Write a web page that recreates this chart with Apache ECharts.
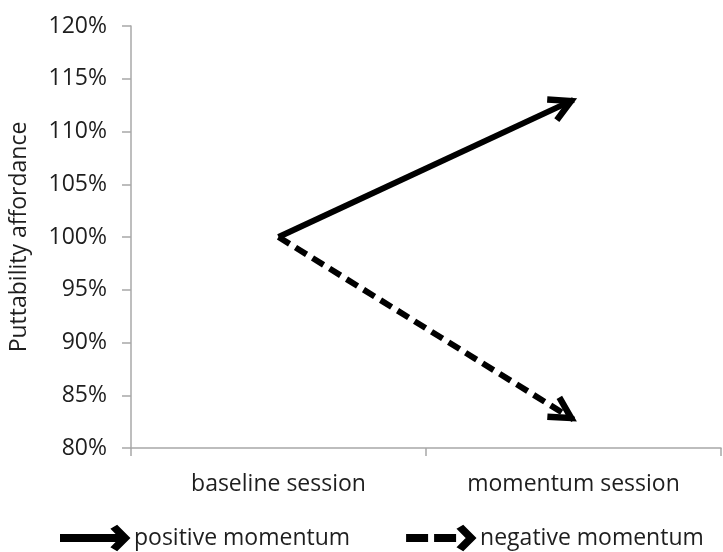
<!DOCTYPE html>
<html>
<head>
<meta charset="utf-8">
<script src="https://cdn.jsdelivr.net/npm/echarts@6/dist/echarts.min.js"></script>
<style>html,body{margin:0;padding:0;background:#fff;}#c{width:723px;height:552px;}</style>
</head>
<body>
<div id="c"></div>
<script>
const categories = ['baseline session', 'momentum session'];
const seriesNames = ['positive momentum', 'negative momentum'];
const positiveValues = [100, 113];
const negativeValues = [100, 82.7];
const yTicks = { min: 80, max: 120, interval: 5 };

const FONT = 'Open Sans';
const TXT = '#1e1e1e';
const chevron = 'path://M-26,-22 M26,30 M0,0 L14.2,26.2 L8.6,29.2 L0,13.4 L-8.6,29.2 L-14.2,26.2 Z';
const legendSolid = 'path://M0,10 L61,10 L61,16 L0,16 Z M68,13 L56,25 L51,22 L60,13 L51,4 L56,1 Z';
const legendDashed = 'path://M0,10 L20,10 L20,16 L0,16 Z M28,10 L48,10 L48,16 L28,16 Z M68,13 L56,25 L51,22 L60,13 L51,4 L56,1 Z';

function toCoords(vals) { return vals.map((v, i) => [i, v]); }

const chart = echarts.init(document.getElementById('c'));
chart.setOption({
  animation: false,
  grid: { left: 129, right: 2, top: 26, bottom: 104 },
  xAxis: {
    type: 'category',
    data: categories,
    boundaryGap: true,
    axisLine: { lineStyle: { color: '#a8a8a8', width: 1.5 } },
    axisTick: { show: true, length: 8, lineStyle: { color: '#a8a8a8', width: 1.5 } },
    axisLabel: { color: TXT, fontFamily: FONT, fontSize: 23, margin: 25 }
  },
  yAxis: {
    type: 'value',
    min: yTicks.min, max: yTicks.max, interval: yTicks.interval,
    name: 'Puttability affordance',
    nameLocation: 'middle',
    nameGap: 100,
    nameTextStyle: { color: TXT, fontFamily: FONT, fontSize: 23 },
    axisLine: { show: true, lineStyle: { color: '#a8a8a8', width: 1.5 } },
    axisTick: { show: true, length: 9, lineStyle: { color: '#a8a8a8', width: 1.5 } },
    splitLine: { show: false },
    axisLabel: { color: TXT, fontFamily: FONT, fontSize: 23, margin: 24, formatter: '{value}%' }
  },
  legend: {
    left: 55, top: 520,
    itemWidth: 68, itemHeight: 26, itemGap: 56,
    textStyle: { color: TXT, fontFamily: FONT, fontSize: 23 },
    data: [
      { name: seriesNames[0], icon: legendSolid },
      { name: seriesNames[1], icon: legendDashed }
    ]
  },
  series: [
    {
      name: seriesNames[0], type: 'lines', coordinateSystem: 'cartesian2d',
      symbol: ['none', chevron], symbolSize: [1, 52],
      lineStyle: { color: '#000', width: 6, type: 'solid', opacity: 1 },
      itemStyle: { color: '#000' },
      data: [{ coords: toCoords(positiveValues) }]
    },
    {
      name: seriesNames[1], type: 'lines', coordinateSystem: 'cartesian2d',
      symbol: ['none', chevron], symbolSize: [1, 52],
      lineStyle: { color: '#000', width: 6, type: [13, 7], opacity: 1 },
      itemStyle: { color: '#000' },
      data: [{ coords: toCoords(negativeValues) }]
    }
  ]
});
</script>
</body>
</html>
